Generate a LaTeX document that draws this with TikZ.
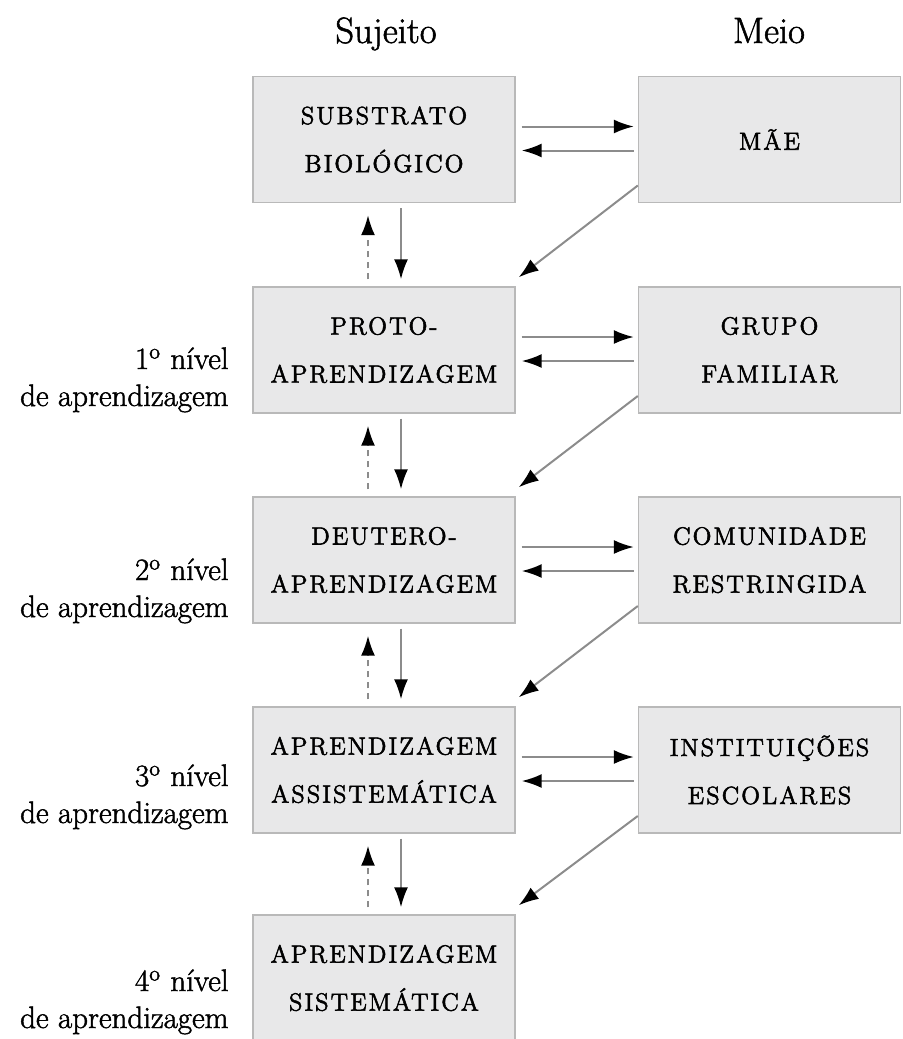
\documentclass[tikz,border=0pt]{standalone}
\usepackage{fontspec}
\usetikzlibrary{arrows.meta}
\setmainfont{Latin Modern Roman}[FakeBold=1.5]
\newfontfamily\boxfont[LetterSpace=8, FakeBold=2.2]{Latin Modern Roman}
\definecolor{boxfill}{RGB}{232,232,233}
\definecolor{boxline}{RGB}{185,185,185}
\definecolor{linkgray}{RGB}{140,140,140}

\begin{document}
\begin{tikzpicture}[x=0.5pt, y=-0.5pt,
  box/.style={draw=boxline, fill=boxfill, line width=0.7pt, minimum width=131pt, minimum height=63pt, inner sep=0pt, align=center, font=\boxfont\fontsize{12.4}{24}\selectfont},
  head/.style={anchor=base, font=\fontsize{18.3}{22}\selectfont},
  level/.style={anchor=base east, align=right, inner sep=0pt, font=\fontsize{15.5}{18.5}\selectfont},
  link/.style={draw=linkgray, line width=1pt, -{Latex[length=10pt,width=7pt,color=black]}},
  back/.style={link, dash pattern=on 3pt off 2.5pt}]
\useasboundingbox (0,0) rectangle (902,1039);

\node[head] (sujeito) at (386,43) {Sujeito};
\node[head] (meio) at (769,43) {Meio};

\node[box] (s1) at (384,139.5) {SUBSTRATO\\BIOLÓGICO};
\node[box] (s2) at (384,350) {PROTO-\\APRENDIZAGEM};
\node[box] (s3) at (384,560) {DEUTERO-\\APRENDIZAGEM};
\node[box] (s4) at (384,770) {APRENDIZAGEM\\ASSISTEMÁTICA};
\node[box] (s5) at (384,978) {APRENDIZAGEM\\SISTEMÁTICA};

\node[box] (m1) at (769.5,139.5) {MÃE};
\node[box] (m2) at (769.5,350) {GRUPO\\FAMILIAR};
\node[box] (m3) at (769.5,560) {COMUNIDADE\\RESTRINGIDA};
\node[box] (m4) at (769.5,770) {INSTITUIÇÕES\\ESCOLARES};

\node[level] (l1) at (229,406) {1\textsuperscript{o} nível\\de aprendizagem};
\node[level] (l2) at (229,617) {2\textsuperscript{o} nível\\de aprendizagem};
\node[level] (l3) at (229,823) {3\textsuperscript{o} nível\\de aprendizagem};
\node[level] (l4) at (229,1028) {4\textsuperscript{o} nível\\de aprendizagem};

\draw[link, shorten <=3pt, shorten >=2pt] ([yshift=6.5pt]s1.east) -- ([yshift=6.5pt]m1.west);
\draw[link, shorten <=2pt, shorten >=3pt] ([yshift=-5.5pt]m1.west) -- ([yshift=-5.5pt]s1.east);
\draw[link, shorten <=3pt, shorten >=2pt] ([yshift=6.5pt]s2.east) -- ([yshift=6.5pt]m2.west);
\draw[link, shorten <=2pt, shorten >=3pt] ([yshift=-5.5pt]m2.west) -- ([yshift=-5.5pt]s2.east);
\draw[link, shorten <=3pt, shorten >=2pt] ([yshift=6.5pt]s3.east) -- ([yshift=6.5pt]m3.west);
\draw[link, shorten <=2pt, shorten >=3pt] ([yshift=-5.5pt]m3.west) -- ([yshift=-5.5pt]s3.east);
\draw[link, shorten <=3pt, shorten >=2pt] ([yshift=6.5pt]s4.east) -- ([yshift=6.5pt]m4.west);
\draw[link, shorten <=2pt, shorten >=3pt] ([yshift=-5.5pt]m4.west) -- ([yshift=-5.5pt]s4.east);

\draw[link] ([yshift=-23pt]m1.west) -- ([xshift=1.5pt,yshift=4.5pt]s2.north east);
\draw[link] ([yshift=-23pt]m2.west) -- ([xshift=1.5pt,yshift=4.5pt]s3.north east);
\draw[link] ([yshift=-23pt]m3.west) -- ([xshift=1.5pt,yshift=4.5pt]s4.north east);
\draw[link] ([yshift=-23pt]m4.west) -- ([xshift=1.5pt,yshift=4.5pt]s5.north east);

\draw[link, shorten <=2.5pt, shorten >=3.5pt] ([xshift=8.5pt]s1.south) -- ([xshift=8.5pt]s2.north);
\draw[back, shorten <=3.5pt, shorten >=6pt] ([xshift=-8pt]s2.north) -- ([xshift=-8pt]s1.south);
\draw[link, shorten <=2.5pt, shorten >=3.5pt] ([xshift=8.5pt]s2.south) -- ([xshift=8.5pt]s3.north);
\draw[back, shorten <=3.5pt, shorten >=6pt] ([xshift=-8pt]s3.north) -- ([xshift=-8pt]s2.south);
\draw[link, shorten <=2.5pt, shorten >=3.5pt] ([xshift=8.5pt]s3.south) -- ([xshift=8.5pt]s4.north);
\draw[back, shorten <=3.5pt, shorten >=6pt] ([xshift=-8pt]s4.north) -- ([xshift=-8pt]s3.south);
\draw[link, shorten <=2.5pt, shorten >=3.5pt] ([xshift=8.5pt]s4.south) -- ([xshift=8.5pt]s5.north);
\draw[back, shorten <=3.5pt, shorten >=6pt] ([xshift=-8pt]s5.north) -- ([xshift=-8pt]s4.south);
\end{tikzpicture}
\end{document}
